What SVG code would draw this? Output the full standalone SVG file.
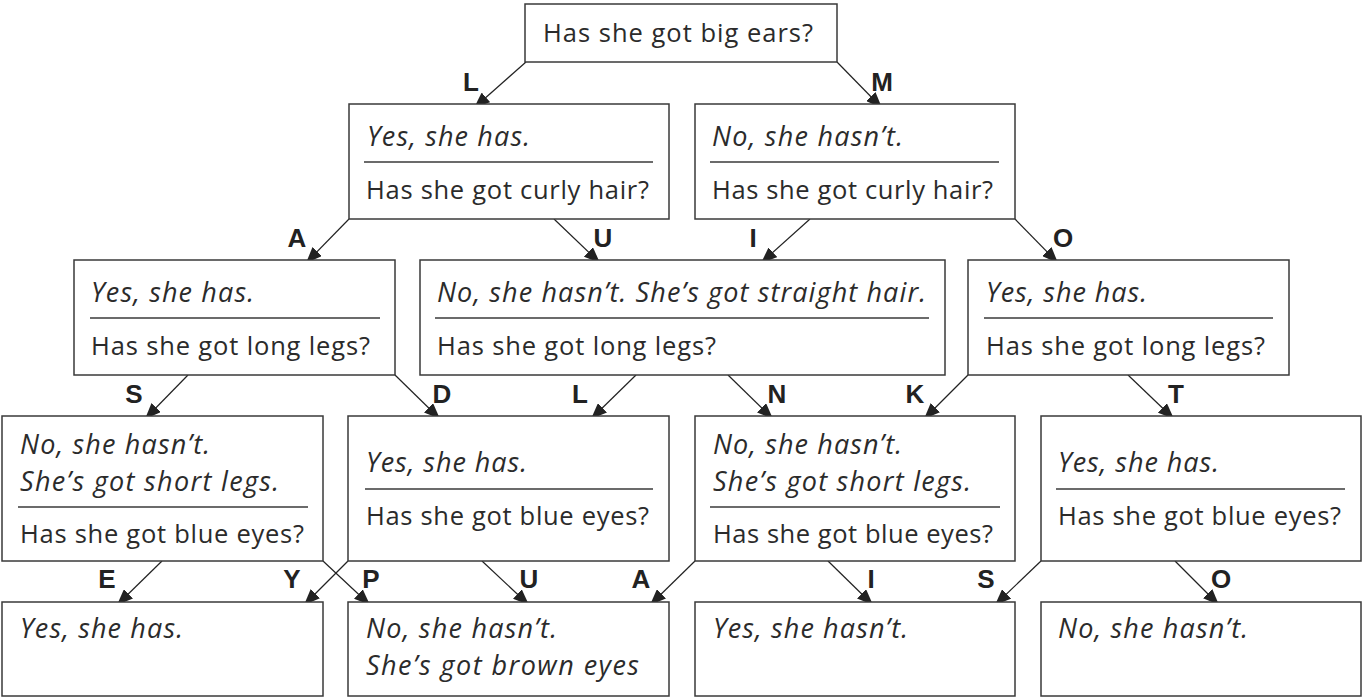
<svg xmlns="http://www.w3.org/2000/svg" width="1362" height="697" viewBox="0 0 1362 697">
<style>
.box{fill:#fff;stroke:#3a3a3a;stroke-width:1.5}
.sep{stroke:#3a3a3a;stroke-width:1.3}
.q{font-family:"Open Sans","Liberation Sans",sans-serif;font-size:25.5px;fill:#2b2b2b}
.a{font-family:"Open Sans","Liberation Sans",sans-serif;font-size:27px;font-style:italic;fill:#2b2b2b}
.lbl{font-family:"Liberation Sans",Arial,sans-serif;font-weight:bold;font-size:26px;text-anchor:middle;fill:#222}
.conn line{stroke:#222;stroke-width:1.2;marker-end:url(#ah)}
</style>
<defs>
<marker id="ah" markerUnits="userSpaceOnUse" markerWidth="17" markerHeight="13" refX="16" refY="6.5" orient="auto">
<path d="M0,0 L16,6.5 L0,13 z" fill="#222"/>
</marker>
</defs>
<rect width="1362" height="697" fill="#fff"/>

<g id="connectors" class="conn">
<line x1="526" y1="62" x2="474" y2="108"/>
<line x1="837" y1="62" x2="882" y2="108"/>
<line x1="349" y1="219" x2="306" y2="263"/>
<line x1="554" y1="219" x2="600" y2="263"/>
<line x1="810" y1="219" x2="761" y2="263"/>
<line x1="1015" y1="219" x2="1058" y2="263"/>
<line x1="188" y1="375" x2="145" y2="419"/>
<line x1="395" y1="375" x2="440" y2="419"/>
<line x1="636" y1="375" x2="591" y2="419"/>
<line x1="728" y1="375" x2="773" y2="419"/>
<line x1="968" y1="375" x2="924" y2="419"/>
<line x1="1128" y1="375" x2="1174" y2="419"/>
<line x1="162" y1="561" x2="117" y2="605"/>
<line x1="348" y1="561" x2="304" y2="605"/>
<line x1="323" y1="561" x2="370" y2="605"/>
<line x1="482" y1="561" x2="529" y2="605"/>
<line x1="695" y1="561" x2="650" y2="605"/>
<line x1="828" y1="561" x2="873" y2="605"/>
<line x1="1041" y1="561" x2="995" y2="605"/>
<line x1="1175" y1="561" x2="1219" y2="605"/>
</g>

<g id="labels">
<text class="lbl" x="471" y="91">L</text>
<text class="lbl" x="882" y="91">M</text>
<text class="lbl" x="297" y="247">A</text>
<text class="lbl" x="603" y="247">U</text>
<text class="lbl" x="753" y="247">I</text>
<text class="lbl" x="1063" y="247">O</text>
<text class="lbl" x="134" y="403">S</text>
<text class="lbl" x="442" y="403">D</text>
<text class="lbl" x="580" y="403">L</text>
<text class="lbl" x="777" y="403">N</text>
<text class="lbl" x="915" y="403">K</text>
<text class="lbl" x="1176" y="403">T</text>
<text class="lbl" x="107" y="588">E</text>
<text class="lbl" x="292" y="588">Y</text>
<text class="lbl" x="371" y="588">P</text>
<text class="lbl" x="529" y="588">U</text>
<text class="lbl" x="641" y="588">A</text>
<text class="lbl" x="871" y="588">I</text>
<text class="lbl" x="986" y="588">S</text>
<text class="lbl" x="1221" y="588">O</text>
</g>

<g id="n-top">
<rect class="box" x="525" y="4" width="312" height="58"/>
<text class="q" x="543" y="42" textLength="270">Has she got big ears?</text>
</g>

<g id="n-l2-yes">
<rect class="box" x="349" y="104" width="320" height="115"/>
<text class="a" x="367" y="146" textLength="163">Yes, she has.</text>
<line class="sep" x1="364" y1="162" x2="653" y2="162"/>
<text class="q" x="366" y="199" textLength="283">Has she got curly hair?</text>
</g>

<g id="n-l2-no">
<rect class="box" x="695" y="104" width="320" height="115"/>
<text class="a" x="712" y="146" textLength="191">No, she hasn’t.</text>
<line class="sep" x1="710" y1="162" x2="999" y2="162"/>
<text class="q" x="712" y="199" textLength="281">Has she got curly hair?</text>
</g>

<g id="n-l3-left">
<rect class="box" x="74" y="260" width="321" height="115"/>
<text class="a" x="91" y="302" textLength="163">Yes, she has.</text>
<line class="sep" x1="90" y1="318" x2="380" y2="318"/>
<text class="q" x="91" y="355" textLength="279">Has she got long legs?</text>
</g>

<g id="n-l3-mid">
<rect class="box" x="420" y="260" width="525" height="115"/>
<text class="a" x="437" y="302" textLength="489">No, she hasn’t. She’s got straight hair.</text>
<line class="sep" x1="435" y1="318" x2="929" y2="318"/>
<text class="q" x="437" y="355" textLength="279">Has she got long legs?</text>
</g>

<g id="n-l3-right">
<rect class="box" x="968" y="260" width="321" height="115"/>
<text class="a" x="986" y="302" textLength="161">Yes, she has.</text>
<line class="sep" x1="984" y1="318" x2="1273" y2="318"/>
<text class="q" x="986" y="355" textLength="279">Has she got long legs?</text>
</g>

<g id="n-l4-1">
<rect class="box" x="2" y="416" width="321" height="145"/>
<text class="a" x="20" y="454" textLength="190">No, she hasn’t.</text>
<text class="a" x="20" y="491" textLength="259">She’s got short legs.</text>
<line class="sep" x1="18" y1="507" x2="308" y2="507"/>
<text class="q" x="20" y="543" textLength="284">Has she got blue eyes?</text>
</g>

<g id="n-l4-2">
<rect class="box" x="348" y="416" width="321" height="145"/>
<text class="a" x="366" y="472" textLength="161">Yes, she has.</text>
<line class="sep" x1="365" y1="489" x2="653" y2="489"/>
<text class="q" x="366" y="525" textLength="283">Has she got blue eyes?</text>
</g>

<g id="n-l4-3">
<rect class="box" x="695" y="416" width="320" height="145"/>
<text class="a" x="713" y="454" textLength="189">No, she hasn’t.</text>
<text class="a" x="713" y="491" textLength="258">She’s got short legs.</text>
<line class="sep" x1="710" y1="507" x2="1000" y2="507"/>
<text class="q" x="713" y="543" textLength="280">Has she got blue eyes?</text>
</g>

<g id="n-l4-4">
<rect class="box" x="1041" y="416" width="320" height="145"/>
<text class="a" x="1058" y="472" textLength="161">Yes, she has.</text>
<line class="sep" x1="1056" y1="489" x2="1345" y2="489"/>
<text class="q" x="1058" y="525" textLength="283">Has she got blue eyes?</text>
</g>

<g id="n-l5-1">
<rect class="box" x="2" y="602" width="321" height="94"/>
<text class="a" x="20" y="638" textLength="163">Yes, she has.</text>
</g>

<g id="n-l5-2">
<rect class="box" x="348" y="602" width="321" height="94"/>
<text class="a" x="366" y="638" textLength="191">No, she hasn’t.</text>
<text class="a" x="366" y="675" textLength="273">She’s got brown eyes</text>
</g>

<g id="n-l5-3">
<rect class="box" x="695" y="602" width="320" height="94"/>
<text class="a" x="713" y="638" textLength="195">Yes, she hasn’t.</text>
</g>

<g id="n-l5-4">
<rect class="box" x="1041" y="602" width="320" height="94"/>
<text class="a" x="1058" y="638" textLength="190">No, she hasn’t.</text>
</g>
</svg>
